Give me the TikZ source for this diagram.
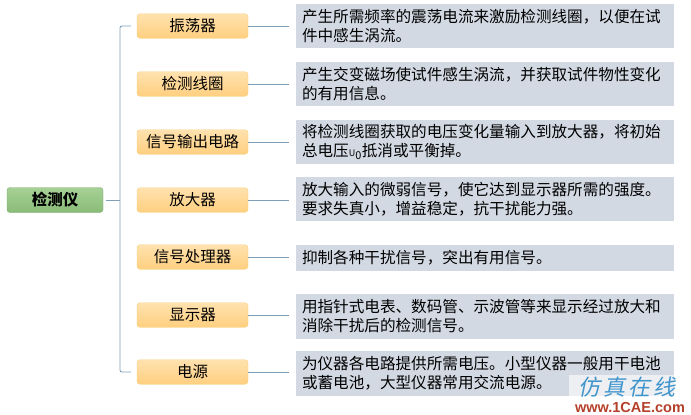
\documentclass[tikz,border=0pt]{standalone}
\usepackage{fontspec}
\setmainfont{Noto Sans CJK SC}
\newfontfamily\wmfont{Liberation Sans}
\definecolor{linkblue}{HTML}{7F9FB8}
\definecolor{textgray}{HTML}{D3D9E3}
\definecolor{parttop}{HTML}{FFE2AE}
\definecolor{partbot}{HTML}{FFCF80}
\definecolor{partline}{HTML}{F6CE78}
\definecolor{roottop}{HTML}{A6D196}
\definecolor{rootbot}{HTML}{8ABB78}
\definecolor{rootline}{HTML}{7FA873}
\definecolor{wmblue}{HTML}{3F95CC}
\definecolor{wmred}{HTML}{B5402A}
\tikzset{
	rootbox/.style={draw=rootline, rounded corners=3pt, top color=roottop, bottom color=rootbot, minimum width=96pt, minimum height=25pt, inner sep=0pt, font=\fontsize{15.5}{19}\selectfont\bfseries},
	partbox/.style={draw=partline, rounded corners=3pt, top color=parttop, bottom color=partbot, minimum width=111pt, minimum height=24.5pt, inner sep=0pt, font=\fontsize{15.5}{19}\selectfont},
	notebox/.style={fill=textgray, text width=366pt, inner xsep=6pt, inner ysep=0pt, align=left, font=\fontsize{15.6}{19}\selectfont},
	link/.style={draw=linkblue, line width=0.9pt}
}
\begin{document}
\begin{tikzpicture}[x=1pt, y=-1pt]
	\useasboundingbox (0,0) rectangle (691,415);
	\node (root) [rootbox] at (55,200) {检测仪};
	\coordinate (trunk) at (120,200);
	\foreach \i/\yn/\lbl/\yt/\hgt/\txt in {
		1/26/振荡器/26/44/{产生所需频率的震荡电流来激励检测线圈，以便在试\\件中感生涡流。},
		2/84/检测线圈/84/44/{产生交变磁场使试件感生涡流，并获取试件物性变化\\的有用信息。},
		3/142/信号输出电路/142/44/{将检测线圈获取的电压变化量输入到放大器，将初始\\总电压{\small U}\textsubscript{0}抵消或平衡掉。},
		4/200/放大器/199/44/{放大输入的微弱信号，使它达到显示器所需的强度。\\要求失真小，增益稳定，抗干扰能力强。},
		5/257/信号处理器/258/26/{抑制各种干扰信号，突出有用信号。},
		6/315/显示器/316.5/45/{用指针式电表、数码管、示波管等来显示经过放大和\\消除干扰后的检测信号。},
		7/372/电源/373.5/45/{为仪器各电路提供所需电压。小型仪器一般用干电池\\或蓄电池，大型仪器常用交流电源。}} {
		\node (n\i) [partbox] at (192.5,\yn) {\lbl};
		\node (t\i) [notebox, minimum height=\hgt pt] at (485,\yt) {\txt};
		\draw [link, shorten >=7pt] (n\i.east) -- (n\i.east -| t\i.west);
	}
	\draw [link, shorten <=3pt] (root.east) -- (trunk);
	\draw [link, rounded corners=2pt, shorten <=6pt, shorten >=6pt] (n1.west) -- (n1.west -| trunk) -- (n7.west -| trunk) -- (n7.west);
	% watermark
	\fill [white, opacity=0.6] (569,375) rectangle (691,415);
	\node (wm1) [text=wmblue, xslant=0.2, font=\fontsize{22}{24}\selectfont] at (629,387) {仿\hspace{3pt}真\hspace{3pt}在\hspace{3pt}线};
	\node (wm2) [text=wmred, font=\fontsize{14.5}{16}\selectfont\wmfont\bfseries, inner sep=0pt] at (630,408) {www.1CAE.com};
\end{tikzpicture}
\end{document}
